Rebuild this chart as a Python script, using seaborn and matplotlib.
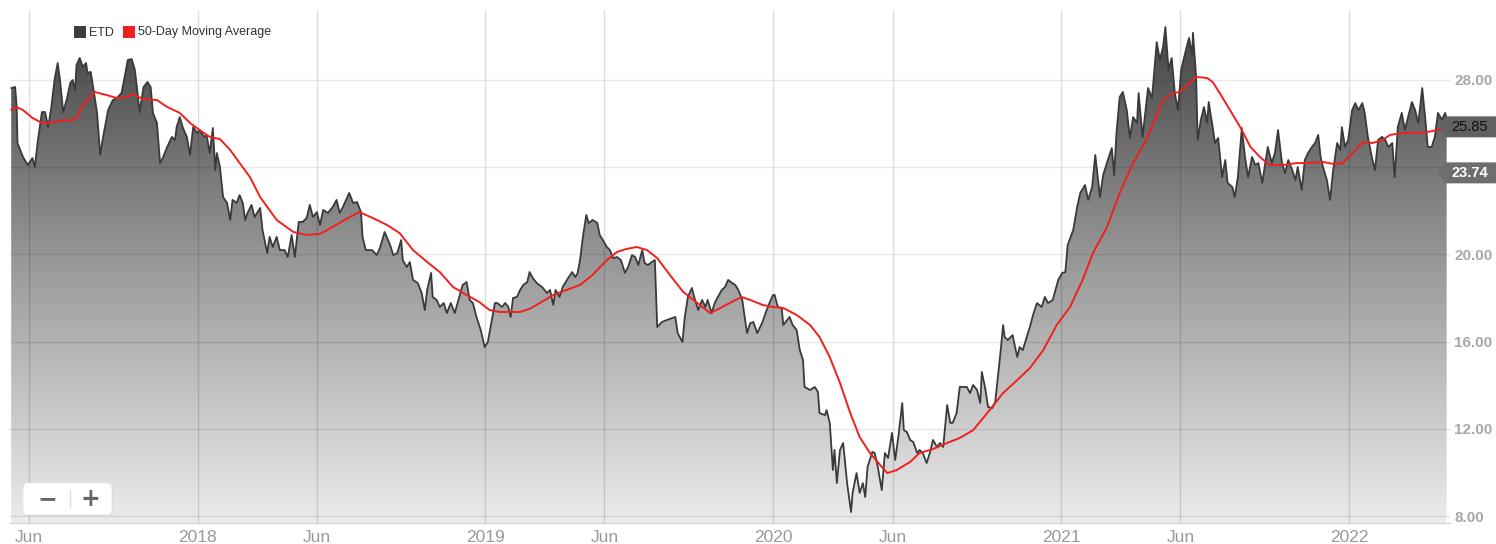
import numpy as np
import pandas as pd
import matplotlib
matplotlib.use("Agg")
import matplotlib.pyplot as plt
import matplotlib.dates as mdates
import seaborn as sns
from matplotlib.patches import FancyBboxPatch, Polygon, Rectangle
from matplotlib.transforms import blended_transform_factory, IdentityTransform
from matplotlib.colors import LinearSegmentedColormap

# ---- ETD closing prices ----
price_dates = [
    "2017-05-09", "2017-05-14", "2017-05-16", "2017-05-17", "2017-05-24", "2017-05-30",
    "2017-06-05", "2017-06-08", "2017-06-12", "2017-06-17", "2017-06-21", "2017-06-25", "2017-06-29",
    "2017-07-03", "2017-07-07", "2017-07-10", "2017-07-14", "2017-07-19", "2017-07-23", "2017-07-26", "2017-07-29", "2017-07-31",
    "2017-08-04", "2017-08-08", "2017-08-12", "2017-08-14", "2017-08-18", "2017-08-21", "2017-08-26", "2017-08-30",
    "2017-09-02", "2017-09-09", "2017-09-15", "2017-09-20", "2017-09-26", "2017-09-30",
    "2017-10-04", "2017-10-09", "2017-10-13", "2017-10-16", "2017-10-19", "2017-10-24", "2017-10-29",
    "2017-11-02", "2017-11-05", "2017-11-10", "2017-11-14", "2017-11-18", "2017-11-23", "2017-11-29",
    "2017-12-03", "2017-12-05", "2017-12-09", "2017-12-13", "2017-12-18", "2017-12-22", "2017-12-26", "2017-12-31",
    "2018-01-03", "2018-01-09", "2018-01-12", "2018-01-16", "2018-01-20", "2018-01-23", "2018-01-25", "2018-01-29",
    "2018-02-02", "2018-02-07", "2018-02-11", "2018-02-14", "2018-02-19", "2018-02-23", "2018-02-27",
    "2018-03-02", "2018-03-05", "2018-03-10", "2018-03-14", "2018-03-21", "2018-03-24", "2018-03-30",
    "2018-04-02", "2018-04-06", "2018-04-11", "2018-04-15", "2018-04-21", "2018-04-25", "2018-04-30",
    "2018-05-04", "2018-05-09", "2018-05-14", "2018-05-19", "2018-05-23", "2018-05-27",
    "2018-06-01", "2018-06-05", "2018-06-09", "2018-06-15", "2018-06-21", "2018-06-26", "2018-06-30",
    "2018-07-04", "2018-07-12", "2018-07-17", "2018-07-22", "2018-07-27", "2018-07-29",
    "2018-08-02", "2018-08-10", "2018-08-16", "2018-08-20", "2018-08-26",
    "2018-09-02", "2018-09-06", "2018-09-11", "2018-09-16", "2018-09-18", "2018-09-23", "2018-09-27",
    "2018-10-01", "2018-10-07", "2018-10-12", "2018-10-16", "2018-10-19", "2018-10-24", "2018-10-26", "2018-10-31",
    "2018-11-04", "2018-11-09", "2018-11-13", "2018-11-18", "2018-11-23", "2018-11-27",
    "2018-12-03", "2018-12-08", "2018-12-12", "2018-12-16", "2018-12-21", "2018-12-26", "2018-12-31",
    "2019-01-04", "2019-01-09", "2019-01-13", "2019-01-16", "2019-01-22", "2019-01-26", "2019-01-30",
    "2019-02-02", "2019-02-05", "2019-02-10", "2019-02-14", "2019-02-18", "2019-02-23", "2019-02-26",
    "2019-03-02", "2019-03-07", "2019-03-14", "2019-03-20", "2019-03-24", "2019-03-28", "2019-03-31",
    "2019-04-05", "2019-04-09", "2019-04-16", "2019-04-21", "2019-04-25", "2019-04-28",
    "2019-05-01", "2019-05-05", "2019-05-09", "2019-05-12", "2019-05-17", "2019-05-23", "2019-05-26", "2019-05-30",
    "2019-06-04", "2019-06-08", "2019-06-12", "2019-06-17", "2019-06-22", "2019-06-27",
    "2019-07-01", "2019-07-06", "2019-07-10", "2019-07-14", "2019-07-19", "2019-07-22", "2019-07-26", "2019-07-31",
    "2019-08-04", "2019-08-07", "2019-08-13", "2019-08-19", "2019-08-26", "2019-08-30",
    "2019-09-02", "2019-09-08", "2019-09-11", "2019-09-15", "2019-09-20", "2019-09-24", "2019-09-28",
    "2019-10-03", "2019-10-07", "2019-10-10", "2019-10-15", "2019-10-19", "2019-10-23", "2019-10-28",
    "2019-11-01", "2019-11-05", "2019-11-10", "2019-11-14", "2019-11-18", "2019-11-23", "2019-11-26", "2019-11-29",
    "2019-12-03", "2019-12-07", "2019-12-12", "2019-12-18", "2019-12-24", "2019-12-28",
    "2020-01-01", "2020-01-03", "2020-01-07", "2020-01-12", "2020-01-14", "2020-01-19", "2020-01-22", "2020-01-26", "2020-01-31",
    "2020-02-04", "2020-02-08", "2020-02-10", "2020-02-17", "2020-02-23", "2020-02-27", "2020-02-29",
    "2020-03-07", "2020-03-09", "2020-03-13", "2020-03-17", "2020-03-19", "2020-03-22", "2020-03-26", "2020-03-30",
    "2020-04-04", "2020-04-09", "2020-04-11", "2020-04-16", "2020-04-20", "2020-04-24", "2020-04-27", "2020-04-30",
    "2020-05-06", "2020-05-09", "2020-05-13", "2020-05-18", "2020-05-22", "2020-05-26", "2020-05-31",
    "2020-06-04", "2020-06-08", "2020-06-13", "2020-06-15", "2020-06-19", "2020-06-23", "2020-06-27",
    "2020-07-02", "2020-07-05", "2020-07-09", "2020-07-14", "2020-07-18", "2020-07-22", "2020-07-27", "2020-07-31",
    "2020-08-04", "2020-08-09", "2020-08-13", "2020-08-16", "2020-08-21", "2020-08-25", "2020-08-29",
    "2020-09-03", "2020-09-07", "2020-09-11", "2020-09-16", "2020-09-20", "2020-09-22", "2020-09-26", "2020-09-30",
    "2020-10-05", "2020-10-09", "2020-10-12", "2020-10-16", "2020-10-19", "2020-10-21", "2020-10-25", "2020-10-31",
    "2020-11-06", "2020-11-09", "2020-11-13", "2020-11-18", "2020-11-22", "2020-11-26",
    "2020-12-01", "2020-12-07", "2020-12-11", "2020-12-15", "2020-12-21", "2020-12-28",
    "2021-01-02", "2021-01-06", "2021-01-09", "2021-01-16", "2021-01-21", "2021-01-25", "2021-01-31",
    "2021-02-04", "2021-02-09", "2021-02-13", "2021-02-19", "2021-02-23",
    "2021-03-01", "2021-03-06", "2021-03-09", "2021-03-12", "2021-03-16", "2021-03-20", "2021-03-25", "2021-03-29",
    "2021-04-02", "2021-04-07", "2021-04-09", "2021-04-14", "2021-04-21", "2021-04-26",
    "2021-05-02", "2021-05-06", "2021-05-10", "2021-05-13", "2021-05-17", "2021-05-21", "2021-05-25", "2021-05-29",
    "2021-06-02", "2021-06-05", "2021-06-09", "2021-06-12", "2021-06-16", "2021-06-17", "2021-06-21", "2021-06-23", "2021-06-27",
    "2021-07-01", "2021-07-05", "2021-07-07", "2021-07-12", "2021-07-15", "2021-07-19", "2021-07-24", "2021-07-28", "2021-07-31",
    "2021-08-06", "2021-08-09", "2021-08-13", "2021-08-18", "2021-08-22", "2021-08-26", "2021-08-31",
    "2021-09-04", "2021-09-08", "2021-09-13", "2021-09-16", "2021-09-20", "2021-09-25", "2021-09-29",
    "2021-10-03", "2021-10-08", "2021-10-12", "2021-10-16", "2021-10-21", "2021-10-25", "2021-10-28",
    "2021-11-02", "2021-11-06", "2021-11-10", "2021-11-15", "2021-11-19", "2021-11-23", "2021-11-26", "2021-11-29",
    "2021-12-04", "2021-12-08", "2021-12-12", "2021-12-17", "2021-12-21", "2021-12-23", "2021-12-27", "2021-12-31",
    "2022-01-05", "2022-01-09", "2022-01-13", "2022-01-18", "2022-01-21", "2022-01-25", "2022-01-30",
    "2022-02-03", "2022-02-07", "2022-02-12", "2022-02-16", "2022-02-20", "2022-02-25", "2022-02-28",
    "2022-03-04", "2022-03-09", "2022-03-13", "2022-03-17", "2022-03-22", "2022-03-26", "2022-03-30",
    "2022-04-04", "2022-04-08", "2022-04-11", "2022-04-16", "2022-04-20", "2022-04-24", "2022-04-29",
    "2022-05-03", "2022-05-05",
]
price_close = [
    27.63, 27.68, 26.76, 25.11, 24.47, 24.10,
    24.42, 24.01, 25.25, 26.53, 26.53, 25.84, 26.76,
    28.00, 28.78, 28.00, 26.53, 27.17, 27.86, 28.00, 27.54, 28.69,
    29.01, 28.60, 28.78, 28.32, 28.37, 27.68, 26.49, 24.56,
    25.25, 26.62, 27.08, 27.17, 27.40, 28.14,
    28.92, 28.96, 28.46, 27.54, 26.53, 27.68, 27.91,
    27.68, 26.49, 26.03, 24.19, 24.47, 24.93, 25.39,
    25.25, 25.84, 26.30, 25.80, 25.39, 24.56, 25.84, 25.57,
    25.71, 25.39, 25.48, 24.65, 25.80, 23.87, 24.65, 24.01,
    22.63, 22.36, 21.58, 22.50, 22.36, 22.72, 22.36,
    21.58, 21.90, 22.27, 21.72, 22.13, 21.12, 20.06,
    20.80, 20.34, 20.80, 20.20, 20.20, 19.88, 20.89,
    19.88, 21.49, 21.49, 21.67, 22.27, 21.72,
    21.94, 21.35, 22.04, 21.90, 22.17, 22.50, 21.90,
    22.17, 22.82, 22.36, 22.40, 21.94, 20.80,
    20.20, 20.20, 19.97, 20.29, 21.03,
    20.43, 19.97, 20.06, 20.66, 19.74, 19.42, 19.65,
    18.83, 18.69, 18.23, 17.45, 18.37, 19.15, 18.05, 17.91,
    17.59, 17.77, 17.31, 17.77, 17.31, 17.82,
    18.60, 18.73, 17.91, 17.77, 17.08, 16.53, 15.75,
    15.98, 16.99, 17.77, 17.77, 17.59, 17.77, 17.59,
    17.13, 18.00, 18.05, 18.37, 18.60, 18.73, 19.19,
    18.92, 18.69, 18.50, 18.23, 18.37, 17.68, 18.37,
    18.05, 18.50, 18.92, 19.19, 18.96, 19.15,
    19.74, 20.89, 21.81, 21.44, 21.58, 21.44, 20.89, 20.66,
    20.34, 20.20, 19.83, 19.88, 19.74, 19.15,
    19.42, 19.97, 19.88, 19.51, 20.20, 19.61, 19.51, 19.65,
    19.74, 16.67, 16.90, 16.99, 17.08, 17.13,
    16.39, 15.98, 17.13, 18.05, 18.46, 17.91, 17.45,
    17.91, 17.59, 17.91, 17.31, 17.77, 18.05, 18.37,
    18.50, 18.83, 18.69, 18.60, 18.37, 17.91, 17.13, 16.39,
    16.85, 16.90, 16.39, 16.85, 17.45, 17.82,
    18.14, 18.14, 17.59, 17.54, 16.76, 16.99, 17.13, 16.76, 16.53,
    15.61, 15.16, 13.92, 13.78, 13.92, 13.69, 12.72,
    12.63, 12.86, 12.27, 10.11, 11.03, 9.51, 11.03, 11.35,
    9.51, 8.18, 9.06, 9.97, 9.06, 9.51, 8.87, 10.25,
    10.94, 10.89, 10.25, 9.19, 10.89, 10.66, 11.81,
    10.57, 11.62, 13.18, 11.94, 11.85, 11.49, 11.39,
    10.89, 11.03, 10.89, 10.43, 10.89, 11.49, 11.17, 11.35,
    11.17, 13.09, 12.27, 12.27, 12.72, 13.92, 13.92,
    13.92, 13.64, 14.01, 13.78, 13.18, 14.61, 13.92, 13.00,
    12.95, 13.23, 14.24, 15.61, 16.76, 16.21, 16.07, 16.30,
    15.29, 15.75, 15.61, 16.21, 16.67, 17.22,
    17.77, 17.59, 18.05, 17.77, 17.91, 18.83,
    19.15, 19.19, 20.43, 21.12, 22.17, 22.82, 23.18,
    22.50, 23.09, 24.56, 22.63, 23.64,
    24.33, 24.88, 23.64, 25.61, 27.22, 27.45, 26.62, 25.34,
    26.30, 26.03, 27.40, 25.39, 27.63, 27.17,
    29.74, 28.92, 29.51, 30.43, 28.46, 29.01, 27.40, 26.62,
    28.46, 28.92, 29.51, 29.93, 29.15, 30.16, 28.14, 25.25, 26.17,
    26.76, 26.03, 26.99, 25.84, 25.11, 25.34, 23.55, 24.33, 23.28,
    23.09, 22.63, 23.55, 25.80, 24.47, 23.55, 24.47,
    24.10, 24.19, 23.28, 24.01, 24.93, 24.19, 24.65,
    25.71, 24.19, 23.73, 24.33, 23.87, 23.41, 24.01,
    22.95, 24.33, 24.65, 24.93, 25.11, 25.48, 24.47, 24.01,
    23.41, 22.50, 23.87, 25.11, 24.79, 25.84, 24.93, 25.25,
    26.62, 26.94, 26.62, 26.94, 26.49, 25.39, 24.47,
    23.87, 25.25, 25.39, 25.25, 24.93, 25.11, 23.55,
    25.84, 26.49, 25.71, 26.30, 26.99, 26.62, 26.03,
    27.63, 26.17, 24.93, 24.93, 25.39, 26.49, 26.17,
    26.49, 26.26,
]

# ---- 50-day moving average ----
ma_dates = [
    "2017-05-09", "2017-05-16", "2017-05-24", "2017-06-05", "2017-06-17", "2017-06-27",
    "2017-07-07", "2017-07-29", "2017-08-08", "2017-08-23", "2017-09-07", "2017-09-20",
    "2017-10-03", "2017-10-10", "2017-10-23", "2017-11-10", "2017-11-23", "2017-12-09", "2017-12-22",
    "2018-01-03", "2018-01-16", "2018-01-29", "2018-02-11", "2018-02-23", "2018-03-08", "2018-03-21",
    "2018-04-11", "2018-05-02", "2018-05-19", "2018-06-05", "2018-06-21", "2018-07-13", "2018-07-25",
    "2018-08-11", "2018-08-29", "2018-09-14", "2018-10-01", "2018-10-19", "2018-11-04", "2018-11-21",
    "2018-12-08", "2018-12-24", "2019-01-06", "2019-01-19", "2019-02-14", "2019-02-26", "2019-03-11",
    "2019-03-28", "2019-04-14", "2019-05-01", "2019-05-17", "2019-06-04", "2019-06-17", "2019-06-29",
    "2019-07-12", "2019-07-25", "2019-08-07", "2019-08-23", "2019-09-09", "2019-09-27", "2019-10-13",
    "2019-10-26", "2019-11-07", "2019-11-22", "2019-12-03", "2019-12-19", "2020-01-01", "2020-01-14",
    "2020-01-31", "2020-02-17", "2020-02-29", "2020-03-13", "2020-03-26", "2020-04-08", "2020-04-20",
    "2020-05-03", "2020-05-16", "2020-05-25", "2020-06-06", "2020-06-23", "2020-07-05", "2020-07-22",
    "2020-08-09", "2020-08-25", "2020-09-11", "2020-10-02", "2020-10-19", "2020-11-06", "2020-11-22",
    "2020-12-09", "2020-12-26", "2021-01-12", "2021-01-28", "2021-02-10", "2021-02-28", "2021-03-16",
    "2021-04-02", "2021-04-20", "2021-05-10", "2021-05-23", "2021-05-31", "2021-06-13", "2021-06-21",
    "2021-07-05", "2021-07-12", "2021-07-21", "2021-08-03", "2021-08-16", "2021-08-29", "2021-09-10",
    "2021-09-22", "2021-10-09", "2021-10-27", "2021-11-13", "2021-11-29", "2021-12-12", "2021-12-24",
    "2022-01-06", "2022-01-19", "2022-01-31", "2022-02-13", "2022-02-22", "2022-03-11", "2022-03-28",
    "2022-04-10", "2022-04-24", "2022-05-05",
]
ma_values = [
    26.62, 26.76, 26.62, 26.26, 26.03, 26.03,
    26.12, 26.17, 26.85, 27.45, 27.31, 27.17,
    27.22, 27.36, 27.13, 27.08, 26.76, 26.49, 26.03,
    25.71, 25.39, 25.29, 24.79, 24.19, 23.55, 22.63,
    21.58, 21.03, 20.89, 20.94, 21.26, 21.72, 21.94,
    21.67, 21.35, 20.98, 20.20, 19.65, 19.19, 18.50,
    18.14, 17.82, 17.45, 17.36, 17.36, 17.50, 17.77,
    18.14, 18.37, 18.60, 19.06, 19.74, 20.11, 20.25,
    20.34, 20.20, 19.83, 19.06, 18.28, 17.77, 17.31,
    17.54, 17.77, 18.05, 17.91, 17.68, 17.59, 17.54,
    17.22, 16.76, 16.21, 15.29, 14.10, 12.72, 11.62,
    10.89, 10.34, 9.97, 10.11, 10.48, 10.89, 11.07,
    11.35, 11.58, 11.94, 12.86, 13.64, 14.24, 14.79,
    15.61, 16.76, 17.59, 18.83, 20.06, 21.26, 22.82,
    24.19, 25.34, 27.08, 27.40, 27.45, 27.86, 28.14,
    28.09, 27.91, 27.40, 26.62, 25.84, 24.93, 24.47,
    24.10, 24.10, 24.19, 24.19, 24.24, 24.15, 24.19,
    24.65, 25.16, 25.11, 25.25, 25.48, 25.57, 25.57,
    25.61, 25.71, 25.85,
]

# ---- axis labels ----
tick_dates = ["2017-06-01", "2018-01-01", "2018-06-01", "2019-01-01", "2019-06-01",
              "2020-01-01", "2020-06-01", "2021-01-01", "2021-06-01", "2022-01-01"]
tick_labels = ["Jun", "2018", "Jun", "2019", "Jun", "2020", "Jun", "2021", "Jun", "2022"]
price_ticks = [8, 12, 16, 20, 24, 28]
price_tick_labels = ["8.00", "12.00", "16.00", "20.00", "", "28.00"]
series_names = ["ETD", "50-Day Moving Average"]
last_ma_label = 25.85
last_price_label = 23.74

assert len(price_dates) == len(price_close)
assert len(ma_dates) == len(ma_values)

W, H = 1496, 544
sns.set_theme(style="white")
plt.rcParams["font.family"] = ["Liberation Sans", "DejaVu Sans"]

price = pd.DataFrame({"date": pd.to_datetime(price_dates), "close": price_close})
ma = pd.DataFrame({"date": pd.to_datetime(ma_dates), "ma": ma_values})

fig = plt.figure(figsize=(W / 100, H / 100), dpi=100)
fig.patch.set_facecolor("white")
ax = fig.add_axes([10 / W, 1 - 523 / H, (1450 - 10) / W, (523 - 10) / H])
ax.set_facecolor("white")

x0, x1 = pd.Timestamp("2017-05-07 12:00"), pd.Timestamp("2022-05-09 06:00")
y0, y1 = 7.68, 31.21
ax.set_xlim(x0, x1)
ax.set_ylim(y0, y1)

# gridlines
for v in price_ticks:
    ax.axhline(v, color="black", alpha=0.09, lw=1, zorder=3)
for d in pd.to_datetime(tick_dates):
    ax.axvline(d, color="black", alpha=0.13, lw=1, zorder=3)

# price area with vertical gradient
area = ax.fill_between(price["date"], price["close"], y0, facecolor="none", edgecolor="none")
grad = np.linspace(0, 1, 512).reshape(-1, 1)
cmap = LinearSegmentedColormap.from_list("fade", ["#3e3e3e", "#9a9a9a", "#ececec"])
im = ax.imshow(grad, cmap=cmap, aspect="auto", origin="upper",
               extent=[mdates.date2num(x0), mdates.date2num(x1), y0, y1], zorder=2)
im.set_clip_path(area.get_paths()[0], transform=ax.transData)

sns.lineplot(data=price, x="date", y="close", ax=ax, color="#3a3a3a", lw=1.3,
             zorder=4, legend=False)
sns.lineplot(data=ma, x="date", y="ma", ax=ax, color="#f0201c", lw=1.4,
             zorder=5, legend=False)

ax.set_xlim(x0, x1)
ax.set_ylim(y0, y1)
ax.set_xlabel("")
ax.set_ylabel("")

# axes
for s in ["left", "right", "top"]:
    ax.spines[s].set_visible(False)
ax.spines["bottom"].set_color("#d4d4d4")
ax.spines["bottom"].set_linewidth(1)
ax.yaxis.tick_right()
ax.set_yticks(price_ticks)
ax.set_yticklabels(price_tick_labels)
ax.tick_params(axis="y", length=0, pad=3, labelsize=11, labelcolor="#a8a8a8")
for t in ax.get_yticklabels():
    t.set_fontweight("bold")
ax.set_xticks(pd.to_datetime(tick_dates))
ax.set_xticklabels(tick_labels)
ax.tick_params(axis="x", length=0, pad=5, labelsize=12.5, labelcolor="#999999")


def fx(px):
    return px / W


def fy(py):
    return 1 - py / H


# legend
legend_colors = ["#3d3d3d", "#f0201c"]
legend_x = [74, 123]
for name, col, lx in zip(series_names, legend_colors, legend_x):
    fig.add_artist(Rectangle((fx(lx), fy(38)), 12 / W, 12 / H, transform=fig.transFigure,
                             facecolor=col, edgecolor="none"))
    fig.text(fx(lx + 15), fy(32.5), name, fontsize=9, color="#333333", va="center", ha="left")

# value flags on the right edge
flag_tf = blended_transform_factory(fig.transFigure, ax.transData)
half = 10.5 / 21.8


def flag(value, face, text_color, weight, left_px, tip_px):
    pts = [(fx(tip_px), value), (fx(left_px), value + half), (fx(1496), value + half),
           (fx(1496), value - half), (fx(left_px), value - half)]
    fig.add_artist(Polygon(pts, closed=True, transform=flag_tf, facecolor=face,
                           edgecolor="none", zorder=10))
    fig.text(fx(1470), value, f"{value:.2f}", transform=flag_tf, fontsize=10.5,
             color=text_color, fontweight=weight, ha="center", va="center", zorder=11)


flag(last_ma_label, "#616161", "#111111", "normal", 1446, 1440)
flag(last_price_label, "#6e6e6e", "white", "bold", 1446, 1437)

# zoom buttons
shadow = FancyBboxPatch((24, H - 516), 89, 32, boxstyle="round,pad=0,rounding_size=5",
                        transform=IdentityTransform(), facecolor="#000000", alpha=0.06,
                        edgecolor="none")
button = FancyBboxPatch((23, H - 515), 89, 32, boxstyle="round,pad=0,rounding_size=5",
                        transform=IdentityTransform(), facecolor="white",
                        edgecolor="#e6e6e6", lw=0.6)
fig.add_artist(shadow)
fig.add_artist(button)
fig.add_artist(plt.Line2D([fx(70), fx(70)], [fy(490), fy(508)], transform=fig.transFigure,
                          color="#dddddd", lw=1))
fig.text(fx(47), fy(499), "\u2212", fontsize=17, fontweight="bold", color="#666666",
         ha="center", va="center", family="DejaVu Sans")
fig.text(fx(90), fy(499), "+", fontsize=17, fontweight="bold", color="#666666",
         ha="center", va="center", family="DejaVu Sans")

fig.savefig("out.png", dpi=100, facecolor="white")
